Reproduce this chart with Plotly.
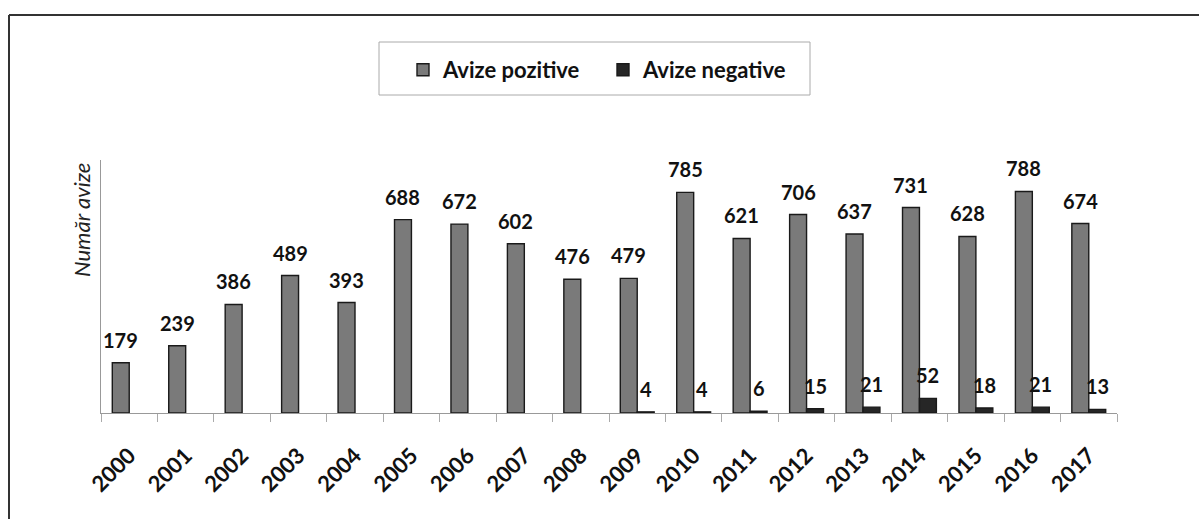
import plotly.graph_objects as go

years = [str(y) for y in range(2000, 2018)]
pozitive = [179, 239, 386, 489, 393, 688, 672, 602, 476, 479, 785, 621, 706, 637, 731, 628, 788, 674]
negative = [None, None, None, None, None, None, None, None, None, 4, 4, 6, 15, 21, 52, 18, 21, 13]

W, H = 1199, 519
L, R, T, B = 101, 82, 160, 106
pw, ph = W - L - R, H - T - B

def px(x):
    return (x - L) / pw

def py(y):
    return (H - B - y) / ph

FONT = "Lato"
fig = go.Figure()
fig.add_trace(go.Bar(x=years, y=pozitive, name="Avize pozitive",
                     marker=dict(color="#7a7a7a", line=dict(color="#1a1a1a", width=1.4))))
fig.add_trace(go.Bar(x=years, y=negative, name="Avize negative",
                     marker=dict(color="#262626", line=dict(color="#1a1a1a", width=1.4))))

ann = []
cat_w = pw / len(years)
off = cat_w * 0.6 / 4
for i, v in enumerate(pozitive):
    ann.append(dict(x=i, y=v, text=str(v), showarrow=False, xshift=-off, yshift=9,
                    yanchor="bottom", font=dict(family=FONT, size=20, color="#111", weight="bold")))
for i, v in enumerate(negative):
    if v:
        ann.append(dict(x=i, y=v, text=str(v), showarrow=False, xshift=off, yshift=9,
                        yanchor="bottom", font=dict(family=FONT, size=20, color="#111", weight="bold")))
ann.append(dict(xref="paper", yref="paper", x=px(81), y=py(220), text="Număr avize",
                textangle=-90, showarrow=False, xanchor="center", yanchor="middle",
                font=dict(family=FONT, size=22, color="#222", style="italic")))

shapes = [
    dict(type="line", xref="paper", yref="paper", x0=px(9), x1=px(1210), y0=py(15), y1=py(15),
         line=dict(color="#333", width=2)),
    dict(type="line", xref="paper", yref="paper", x0=px(9), x1=px(9), y0=py(15), y1=py(530),
         line=dict(color="#333", width=2)),
    dict(type="rect", xref="paper", yref="paper", x0=px(379), x1=px(810), y0=py(42), y1=py(95),
         line=dict(color="#aaa", width=1), fillcolor="rgba(0,0,0,0)"),
]

fig.update_layout(
    width=W, height=H,
    margin=dict(l=L, r=R, t=T, b=B),
    paper_bgcolor="white", plot_bgcolor="white",
    barmode="group", bargap=0.4, bargroupgap=0,
    annotations=ann, shapes=shapes,
    showlegend=True,
    legend=dict(orientation="h", x=px(403), y=py(49), xanchor="left", yanchor="top",
                font=dict(family=FONT, size=22, color="#111", weight="bold"),
                borderwidth=0, bgcolor="rgba(0,0,0,0)", entrywidth=155, itemwidth=30),
    font=dict(family=FONT),
)

fig.update_xaxes(type="category", range=[-0.5, len(years) - 0.5],
                 showline=True, linecolor="#999", linewidth=1,
                 ticks="outside", tickson="boundaries", ticklen=8, tickcolor="#aaa",
                 tickangle=-45, ticklabelstandoff=20,
                 tickfont=dict(family=FONT, size=22, color="#111", weight="bold"),
                 showgrid=False, zeroline=False)
fig.update_yaxes(range=[0, 900], showline=True, linecolor="#999", linewidth=1,
                 showticklabels=False, ticks="", showgrid=False, zeroline=False)

fig.write_html("out.html", config={"displayModeBar": False},
               post_script="document.body.style.margin='0';")
